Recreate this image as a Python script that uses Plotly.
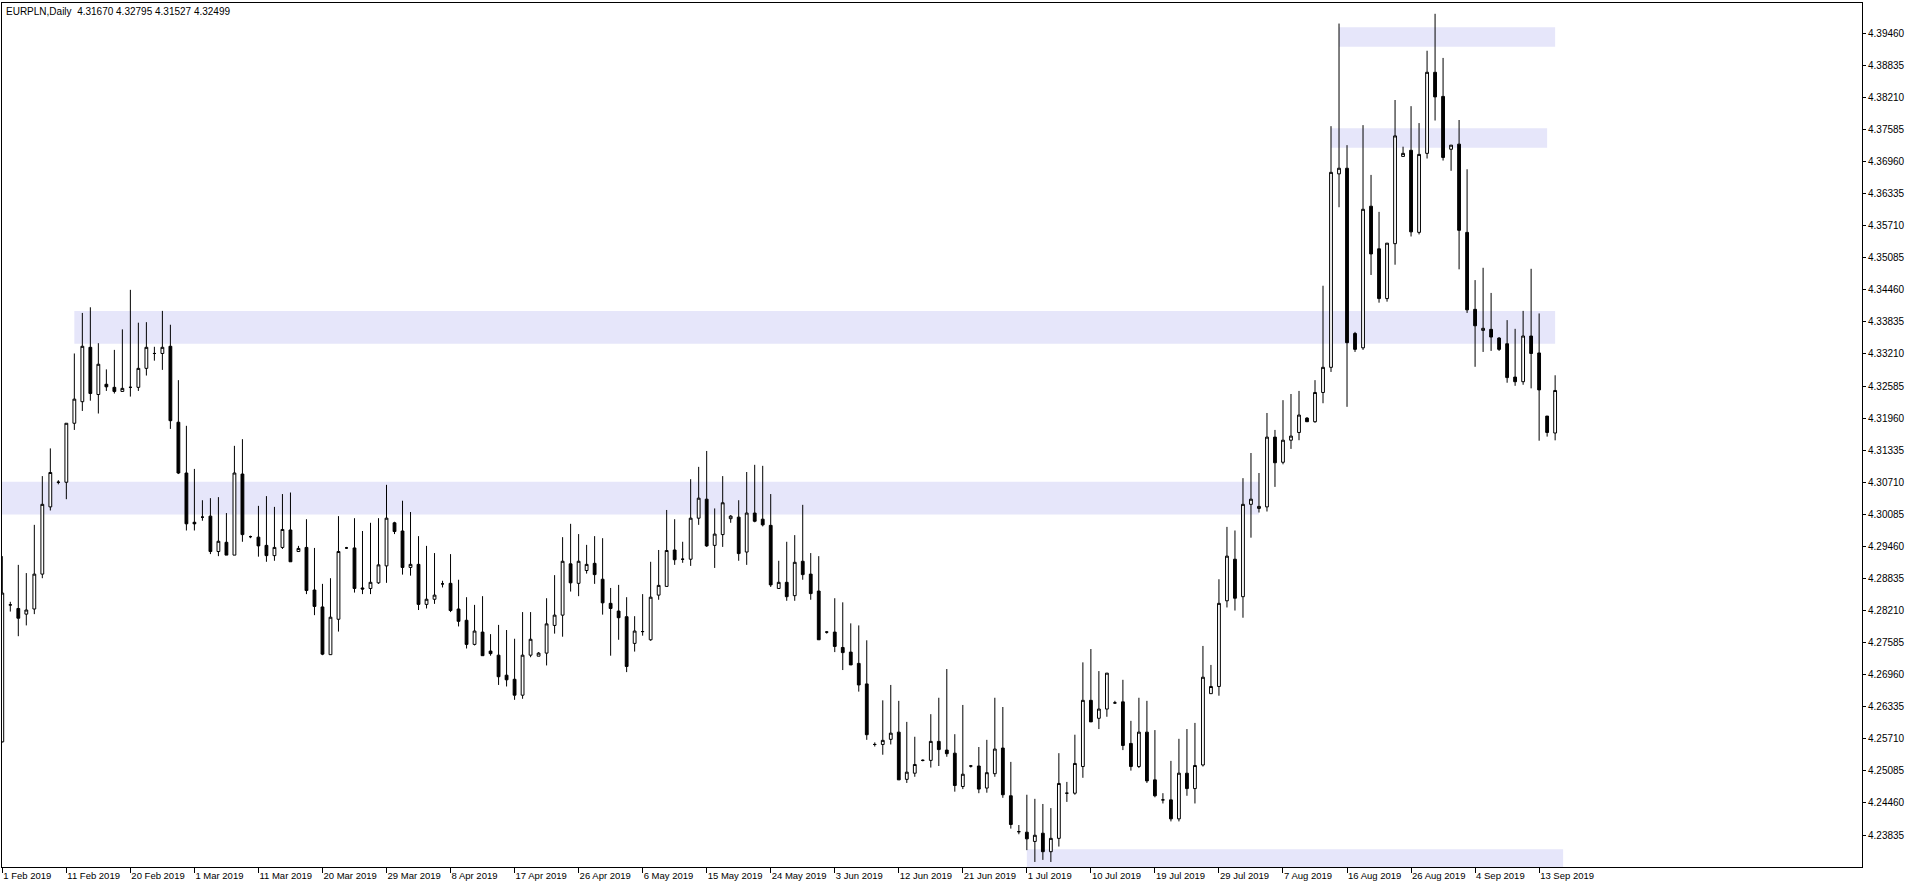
import plotly.graph_objects as go

# ---- data (EURPLN daily, bars incl. Sunday sessions) ----
bar_index = list(range(195))

opens = [
4.2565,4.2832,4.2825,4.2814,4.2824,4.2892,4.3023,4.3071,4.3071,4.3186,
4.3228,4.3334,4.3242,4.3262,4.3256,4.3248,4.3256,4.3256,4.3293,4.3322,
4.3322,4.3336,4.3188,4.3089,4.2993,4.3003,4.3005,4.2936,4.2954,4.2929,
4.3087,4.2965,4.2964,4.2948,4.2928,4.2944,4.2978,4.2936,4.2944,4.2861,
4.2828,4.2735,4.2804,4.2943,4.2943,4.2865,4.2864,4.2875,4.2908,4.2992,
4.2976,4.2905,4.2911,4.2833,4.2843,4.2873,4.2874,4.2824,4.2802,4.2755,
4.2779,4.2742,4.2734,4.2695,4.2687,4.2656,4.2734,4.2732,4.2738,4.2792,
4.2812,4.2912,4.2874,4.2899,4.2913,4.2882,4.2835,4.2820,4.2809,4.2757,
4.2780,4.2764,4.2851,4.2868,4.2939,4.2921,4.2921,4.3001,4.3038,4.2948,
4.2969,4.3000,4.3003,4.2935,4.3011,4.2999,4.2987,4.2864,4.2876,4.2850,
4.2917,4.2892,4.2859,4.2779,4.2779,4.2749,4.2740,4.2718,4.2678,4.2560,
4.2560,4.2570,4.2584,4.2492,4.2504,4.2529,4.2529,4.2566,4.2549,4.2543,
4.2478,4.2518,4.2518,4.2475,4.2503,4.2553,4.2460,4.2390,4.2389,4.2371,
4.2387,4.2351,4.2377,4.2465,4.2465,4.2517,4.2646,4.2611,4.2629,4.2641,
4.2643,4.2562,4.2517,4.2584,4.2491,4.2452,4.2452,4.2415,4.2504,4.2474,
4.2520,4.2659,4.2673,4.2840,4.2921,4.2848,4.3028,4.3020,4.3023,4.3159,
4.3110,4.3153,4.3168,4.3196,4.3189,4.3246,4.3295,4.3672,4.3683,4.3361,
4.3333,4.3609,4.3526,4.3429,4.3536,4.3706,4.3718,4.3558,4.3712,4.3870,
4.3823,4.3720,4.3730,4.3558,4.3408,4.3367,4.3369,4.3352,4.3341,4.3276,
4.3267,4.3356,4.3323,4.3200,4.31670]

highs = [
4.2927,4.2838,4.2910,4.2894,4.2988,4.3083,4.3137,4.3075,4.3186,4.3322,
4.3401,4.3412,4.3342,4.3291,4.3329,4.3369,4.3446,4.3382,4.3383,4.3335,
4.3405,4.3378,4.3270,4.3181,4.3097,4.3036,4.3040,4.3042,4.3011,4.3142,
4.3155,4.2967,4.3025,4.3044,4.3023,4.3048,4.3051,4.2947,4.2999,4.2943,
4.2873,4.2884,4.3005,4.2945,4.3001,4.2976,4.2992,4.3001,4.3066,4.2994,
4.3035,4.3013,4.2966,4.2947,4.2933,4.2879,4.2931,4.2881,4.2847,4.2832,
4.2849,4.2775,4.2793,4.2783,4.2766,4.2818,4.2818,4.2740,4.2845,4.2890,
4.2964,4.2990,4.2970,4.2949,4.2966,4.2962,4.2865,4.2871,4.2847,4.2810,
4.2853,4.2916,4.2939,4.3017,4.2999,4.2955,4.3077,4.3101,4.3132,4.3020,
4.3083,4.3007,4.3036,4.3091,4.3105,4.3103,4.3048,4.2918,4.2955,4.2968,
4.3027,4.2933,4.2927,4.2781,4.2845,4.2837,4.2796,4.2792,4.2763,4.2564,
4.2646,4.2676,4.2645,4.2604,4.2575,4.2531,4.2619,4.2651,4.2707,4.2580,
4.2637,4.2520,4.2555,4.2569,4.2651,4.2633,4.2526,4.2403,4.2462,4.2454,
4.2444,4.2436,4.2543,4.2487,4.2579,4.2720,4.2746,4.2703,4.2699,4.2645,
4.2686,4.2606,4.2651,4.2645,4.2588,4.2465,4.2528,4.2571,4.2590,4.2602,
4.2752,4.2715,4.2882,4.2984,4.2977,4.3079,4.3128,4.3089,4.3206,4.3173,
4.3231,4.3243,4.3249,4.3198,4.3270,4.3454,4.3765,4.3965,4.3728,4.3364,
4.3767,4.3670,4.3598,4.3537,4.3816,4.3725,4.3804,4.3771,4.3912,4.3984,
4.3898,4.3728,4.3777,4.3681,4.3465,4.3489,4.3440,4.3354,4.3387,4.3370,
4.3405,4.3487,4.3400,4.3200,4.32795]

lows = [
4.2564,4.2819,4.2771,4.2792,4.2814,4.2884,4.3016,4.3067,4.3038,4.3173,
4.3210,4.3230,4.3205,4.3249,4.3244,4.3248,4.3238,4.3249,4.3279,4.3308,
4.3290,4.3175,4.3087,4.2977,4.2977,4.2996,4.2931,4.2927,4.2929,4.2929,
4.2955,4.2962,4.2926,4.2916,4.2918,4.2941,4.2916,4.2936,4.2853,4.2812,
4.2734,4.2735,4.2780,4.2941,4.2856,4.2853,4.2853,4.2873,4.2875,4.2970,
4.2891,4.2889,4.2822,4.2825,4.2834,4.2866,4.2818,4.2790,4.2747,4.2753,
4.2733,4.2733,4.2676,4.2673,4.2647,4.2649,4.2730,4.2732,4.2714,4.2776,
4.2770,4.2858,4.2849,4.2893,4.2873,4.2813,4.2733,4.2764,4.2701,4.2741,
4.2772,4.2762,4.2842,4.2868,4.2910,4.2914,4.2908,4.2988,4.2945,4.2904,
4.2945,4.2992,4.2918,4.2910,4.2993,4.2985,4.2867,4.2864,4.2840,4.2840,
4.2881,4.2842,4.2764,4.2776,4.2740,4.2705,4.2715,4.2663,4.2569,4.2556,
4.2540,4.2560,4.2491,4.2485,4.2497,4.2527,4.2515,4.2518,4.2536,4.2468,
4.2473,4.2515,4.2465,4.2466,4.2497,4.2456,4.2396,4.2385,4.2354,4.2331,
4.2335,4.2331,4.2361,4.2448,4.2462,4.2495,4.2604,4.2590,4.2614,4.2639,
4.2549,4.2509,4.2514,4.2485,4.2457,4.2445,4.2410,4.2410,4.2460,4.2445,
4.2517,4.2659,4.2655,4.2827,4.2821,4.2807,4.2963,4.3012,4.3014,4.3062,
4.3106,4.3136,4.3153,4.3189,4.3187,4.3225,4.3286,4.3607,4.3218,4.3325,
4.3329,4.3475,4.3421,4.3423,4.3495,4.3706,4.3550,4.3554,4.3702,4.3776,
4.3698,4.3678,4.3486,4.3401,4.3296,4.3325,4.3327,4.3327,4.3265,4.3259,
4.3261,4.3254,4.3152,4.3160,4.31527]

closes = [
4.2855,4.2832,4.2806,4.2822,4.2892,4.3028,4.3090,4.3071,4.3186,4.3233,
4.3336,4.3244,4.3301,4.3257,4.3248,4.3254,4.3256,4.3293,4.3334,4.3322,
4.3334,4.3191,4.3089,4.2990,4.2990,4.3003,4.2936,4.2956,4.2929,4.3089,
4.2969,4.2965,4.2947,4.2928,4.2944,4.2979,4.2916,4.2942,4.2860,4.2829,
4.2736,4.2808,4.2936,4.2943,4.2864,4.2863,4.2876,4.2910,4.3001,4.2975,
4.2905,4.2911,4.2833,4.2843,4.2851,4.2873,4.2821,4.2800,4.2755,4.2781,
4.2733,4.2737,4.2692,4.2686,4.2656,4.2734,4.2765,4.2738,4.2795,4.2812,
4.2917,4.2875,4.2917,4.2911,4.2891,4.2836,4.2825,4.2807,4.2712,4.2781,
4.2780,4.2847,4.2870,4.2938,4.2920,4.2921,4.3001,4.3040,4.2947,4.2970,
4.3031,4.3005,4.2932,4.3011,4.2995,4.2988,4.2871,4.2876,4.2848,4.2915,
4.2891,4.2854,4.2764,4.2779,4.2751,4.2739,4.2715,4.2676,4.2579,4.2560,
4.2568,4.2582,4.2491,4.2506,4.2521,4.2529,4.2566,4.2550,4.2542,4.2480,
4.2502,4.2518,4.2473,4.2505,4.2551,4.2462,4.2404,4.2390,4.2376,4.2383,
4.2351,4.2377,4.2484,4.2465,4.2523,4.2646,4.2604,4.2629,4.2699,4.2641,
4.2558,4.2517,4.2584,4.2489,4.2460,4.2452,4.2415,4.2504,4.2474,4.2519,
4.2691,4.2673,4.2835,4.2927,4.2845,4.3028,4.3038,4.3024,4.3159,4.3109,
4.3153,4.3161,4.3202,4.3189,4.3246,4.3295,4.3675,4.3683,4.3343,4.3330,
4.3603,4.3516,4.3429,4.3537,4.3746,4.3712,4.3559,4.3710,4.3870,4.3822,
4.3704,4.3728,4.3562,4.3407,4.3376,4.3371,4.3354,4.3330,4.3275,4.3267,
4.3356,4.3322,4.3251,4.3168,4.32499]

date_tick_bars = [0, 8, 16, 24, 32, 40, 48, 56, 64, 72, 80, 88, 96, 104,
                  112, 120, 128, 136, 144, 152, 160, 168, 176, 184, 192]
date_tick_labels = ["1 Feb 2019", "11 Feb 2019", "20 Feb 2019", "1 Mar 2019",
                    "11 Mar 2019", "20 Mar 2019", "29 Mar 2019", "8 Apr 2019",
                    "17 Apr 2019", "26 Apr 2019", "6 May 2019", "15 May 2019",
                    "24 May 2019", "3 Jun 2019", "12 Jun 2019", "21 Jun 2019",
                    "1 Jul 2019", "10 Jul 2019", "19 Jul 2019", "29 Jul 2019",
                    "7 Aug 2019", "16 Aug 2019", "26 Aug 2019", "4 Sep 2019",
                    "13 Sep 2019"]

price_tick_labels = ["4.39460", "4.38835", "4.38210", "4.37585", "4.36960",
                     "4.36335", "4.35710", "4.35085", "4.34460", "4.33835",
                     "4.33210", "4.32585", "4.31960", "4.31335", "4.30710",
                     "4.30085", "4.29460", "4.28835", "4.28210", "4.27585",
                     "4.26960", "4.26335", "4.25710", "4.25085", "4.24460",
                     "4.23835"]
price_tick_values = [float(s) for s in price_tick_labels]

# zones (rectangles): start bar, end bar, upper price, lower price
zone_start = [9, -3, 128, 167, 166]
zone_end = [194, 157, 195, 194, 193]
zone_top = [4.3405, 4.3072, 4.2356, 4.3958, 4.3761]
zone_bottom = [4.3341, 4.3008, 4.2300, 4.3920, 4.3723]

title_text = "EURPLN,Daily\u00a0\u00a04.31670 4.32795 4.31527 4.32499"

# ---- figure ----
FONT = "Liberation Sans, Arial, sans-serif"

fig = go.Figure()
fig.add_trace(go.Candlestick(
    x=bar_index, open=opens, high=highs, low=lows, close=closes,
    increasing=dict(line=dict(color="black", width=1), fillcolor="white"),
    decreasing=dict(line=dict(color="black", width=1), fillcolor="black"),
    whiskerwidth=0, hoverinfo="skip", showlegend=False,
))

for x0, x1, y0, y1 in zip(zone_start, zone_end, zone_top, zone_bottom):
    fig.add_shape(type="rect", xref="x", yref="y", x0=x0, x1=x1, y0=y0, y1=y1,
                  fillcolor="#E6E6FA", line=dict(width=0), layer="below")

fig.add_annotation(text=title_text, xref="paper", yref="paper", x=0, y=1,
                   xanchor="left", yanchor="top", xshift=2, yshift=-1,
                   showarrow=False, font=dict(family=FONT, size=10, color="black"))

fig.update_layout(
    width=1916, height=888,
    margin=dict(l=2, r=54, t=3, b=21, pad=0),
    paper_bgcolor="white", plot_bgcolor="white",
    boxgap=0.5,
    font=dict(family=FONT, size=10, color="black"),
    xaxis=dict(
        range=[-0.0375, 232.3375],
        showgrid=False, zeroline=False,
        showline=True, linecolor="black", linewidth=1, mirror=True,
        tickmode="array", tickvals=date_tick_bars, ticktext=date_tick_labels,
        ticks="outside", ticklen=5, tickcolor="black", tickwidth=1,
        ticklabelposition="outside right", tickangle=0,
        tickfont=dict(family=FONT, size=9.5, color="black"),
        rangeslider=dict(visible=False),
        fixedrange=True,
    ),
    yaxis=dict(
        side="right",
        range=[4.232117, 4.400505],
        showgrid=False, zeroline=False,
        showline=True, linecolor="black", linewidth=1, mirror=True,
        tickmode="array", tickvals=price_tick_values, ticktext=price_tick_labels,
        ticks="outside", ticklen=3, tickcolor="black", tickwidth=1,
        tickfont=dict(family=FONT, size=10, color="black"),
        fixedrange=True,
    ),
)

fig.write_html("out.html", include_plotlyjs=True,
               config={"displayModeBar": False, "staticPlot": True},
               post_script="document.body.style.margin='0px';document.body.style.overflow='hidden';")
